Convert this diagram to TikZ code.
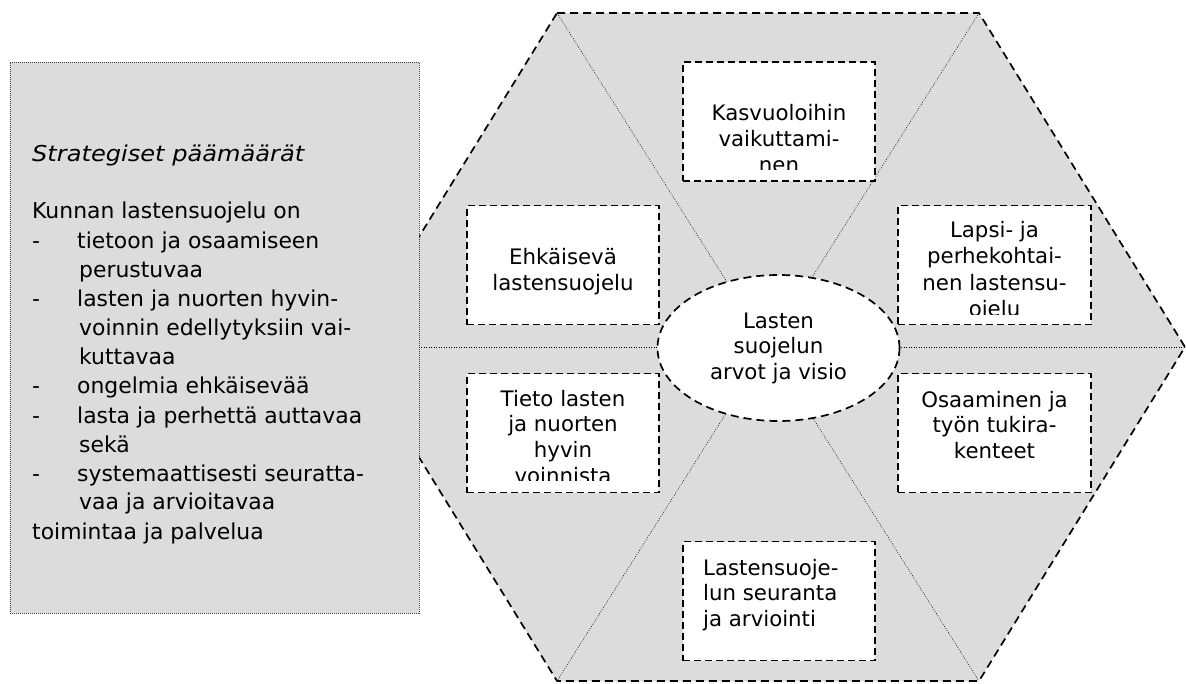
\documentclass[tikz,border=0pt]{standalone}
\usepackage{fontspec}
\setmainfont{DejaVu Sans}
\usetikzlibrary{shapes.geometric}
\definecolor{hexgray}{RGB}{220,220,220}
\begin{document}
\begin{tikzpicture}[x=1pt,y=-1pt,
  hexfill/.style={fill=hexgray},
  hexline/.style={draw=black, line width=1.7pt, dash pattern=on 8pt off 5pt, line join=round},
  innerline/.style={draw=black, line width=0.5pt, dash pattern=on 1pt off 1.5pt},
  boxst/.style={draw=black, fill=white, line width=1.8pt, dash pattern=on 7pt off 4pt, minimum width=192pt, minimum height=119pt, inner sep=0pt},
  ellst/.style={ellipse, draw=black, fill=white, line width=1.7pt, dash pattern=on 8pt off 5pt, minimum width=242pt, minimum height=146pt, inner sep=0pt},
  leftbox/.style={draw=black!75, fill=hexgray, line width=0.8pt, dash pattern=on 1pt off 1pt, inner sep=0pt, minimum width=409pt, minimum height=551pt},
  txt/.style={font=\fontsize{21.3pt}{26pt}\selectfont, inner sep=0pt, anchor=base},
  txtl/.style={font=\fontsize{21.3pt}{26pt}\selectfont, inner sep=0pt, anchor=base west},
  ltxt/.style={font=\fontsize{21.9pt}{29pt}\selectfont, inner sep=0pt, anchor=base west},
]
\useasboundingbox (0,0) rectangle (1186,683);

% hexagon
\coordinate (hTL) at (557,13);
\coordinate (hTR) at (979,13);
\coordinate (hR) at (1185,347);
\coordinate (hBR) at (979,681);
\coordinate (hBL) at (557,681);
\coordinate (hL) at (351,347);
\fill[hexfill] (hTL) -- (hTR) -- (hR) -- (hBR) -- (hBL) -- (hL) -- cycle;
\draw[innerline] (hTL) -- (hBR);
\draw[innerline] (hTR) -- (hBL);
\draw[innerline] (hL) -- (hR);
\draw[hexline] (hTL) -- (hTR) -- (hR) -- (hBR) -- (hBL) -- (hL) -- cycle;

% boxes
\node[boxst] (b1) at (779,121.5) {};
\node[boxst] (b2) at (563,265) {};
\node[boxst] (b3) at (563,433) {};
\node[boxst, minimum width=193pt] (b4) at (994.5,265) {};
\node[boxst, minimum width=193pt] (b5) at (994.5,433) {};
\node[boxst] (b6) at (779,601) {};

% centre ellipse
\node[ellst] (ell) at (778.5,348) {};

% left box
\node[leftbox] (lb) at (214.5,337.5) {};

% box texts
\begin{scope}
\clip (b1.north west) rectangle ([yshift=12pt]b1.south east);
\foreach \t [count=\i] in {Kasvuoloihin,vaikuttami-,nen}
  \node[txt] (k\i) at ({779},{120+26*(\i-1)}) {\t};
\end{scope}

\foreach \t [count=\i] in {Ehkäisevä,lastensuojelu}
  \node[txt] (e\i) at ({563},{264+26*(\i-1)}) {\t};

\begin{scope}
\clip (b3.north west) rectangle ([yshift=13pt]b3.south east);
\foreach \t [count=\i] in {Tieto lasten,ja nuorten,hyvin,voinnista}
  \node[txt] (ti\i) at ({563},{406+25.7*(\i-1)}) {\t};
\end{scope}

\begin{scope}
\clip (b4.north west) rectangle ([yshift=11pt]b4.south east);
\foreach \t [count=\i] in {Lapsi- ja,perhekohtai-,nen lastensu-,ojelu}
  \node[txt] (la\i) at ({994.5},{237+26.5*(\i-1)}) {\t};
\end{scope}

\foreach \t [count=\i] in {Osaaminen ja,työn tukira-,kenteet}
  \node[txt] (o\i) at ({994.5},{407+25.7*(\i-1)}) {\t};

\foreach \t [count=\i] in {Lastensuoje-,lun seuranta,ja arviointi}
  \node[txtl] (ls\i) at ({703},{575+25.7*(\i-1)}) {\t};

\foreach \t [count=\i] in {Lasten,suojelun,arvot ja visio}
  \node[txt] (c\i) at ({778.5},{328+25.5*(\i-1)}) {\t};

% left box text
\node[ltxt, font=\fontsize{21.9pt}{29pt}\selectfont\itshape] (s0) at (32,161) {\scalebox{1.1}[1]{Strategiset päämäärät}};
\node[ltxt] (s1) at (32,218) {Kunnan lastensuojelu on};
\node[ltxt] (d1) at (32,248) {-};
\node[ltxt] (s2) at (77,248) {tietoon ja osaamiseen};
\node[ltxt] (s3) at (79,277) {perustuvaa};
\node[ltxt] (d2) at (32,306) {-};
\node[ltxt] (s4) at (77,306) {lasten ja nuorten hyvin-};
\node[ltxt] (s5) at (79,335) {voinnin edellytyksiin vai-};
\node[ltxt] (s6) at (79,364) {kuttavaa};
\node[ltxt] (d3) at (32,393) {-};
\node[ltxt] (s7) at (77,393) {ongelmia ehkäisevää};
\node[ltxt] (d4) at (32,423) {-};
\node[ltxt] (s8) at (77,423) {lasta ja perhettä auttavaa};
\node[ltxt] (s9) at (79,452) {sekä};
\node[ltxt] (d5) at (32,481) {-};
\node[ltxt] (s10) at (77,481) {systemaattisesti seuratta-};
\node[ltxt] (s11) at (79,509) {vaa ja arvioitavaa};
\node[ltxt] (s12) at (32,539) {toimintaa ja palvelua};
\end{tikzpicture}
\end{document}
